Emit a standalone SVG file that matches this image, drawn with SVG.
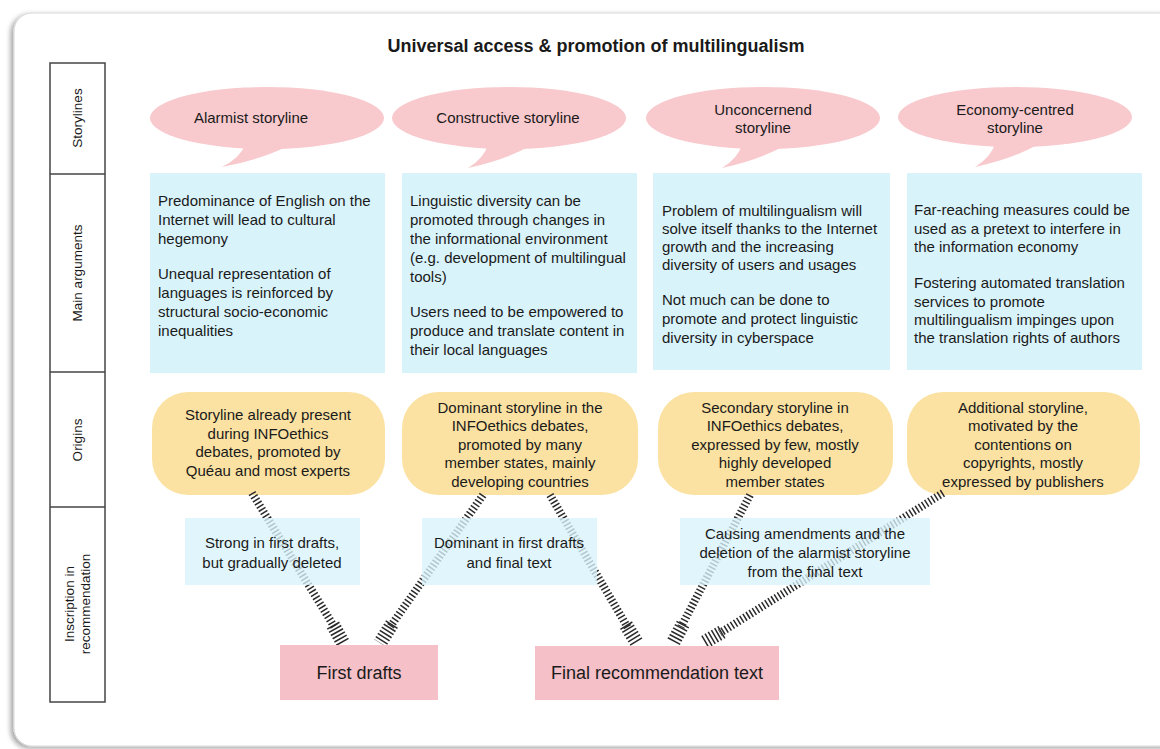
<svg xmlns="http://www.w3.org/2000/svg" width="1160" height="749" viewBox="0 0 1160 749">
<defs>
<filter id="sh" x="-5%" y="-5%" width="110%" height="110%">
<feDropShadow dx="-3" dy="2" stdDeviation="2.5" flood-color="#000" flood-opacity="0.35"/>
</filter>
</defs>
<style>
text{font-family:"Liberation Sans",Arial,sans-serif;fill:#1a1a1a}
.t{font-size:15px}
.c{text-anchor:middle}
.lab{font-size:13.5px;text-anchor:middle}
.bub{fill:#f8c9cd}
.arg{fill:#d9f3fb}
.ori{fill:#fbe2a2}
.ins{fill:#d9f3fb;fill-opacity:0.78}
.out{fill:#f5c0c7}
.sh{fill:none;stroke:#2a2a2a;stroke-width:8;stroke-dasharray:1.5 2.2}
.hd{fill:none;stroke:#2a2a2a;stroke-width:14;stroke-dasharray:1.5 2.2}
</style>
<rect x="14" y="13" width="1170" height="733" rx="18" fill="#fff" stroke="#d8d8d8" filter="url(#sh)"/>
<text x="596" y="52" class="c" style="font-size:18px;font-weight:bold">Universal access &amp; promotion of multilingualism</text>

<g id="rows">
<rect x="50" y="63" width="55" height="639" fill="#fff" stroke="#444" stroke-width="1.5"/>
<line x1="50" y1="174" x2="105" y2="174" stroke="#444" stroke-width="1.5"/>
<line x1="50" y1="372" x2="105" y2="372" stroke="#444" stroke-width="1.5"/>
<line x1="50" y1="507" x2="105" y2="507" stroke="#444" stroke-width="1.5"/>
<text class="lab" transform="translate(82,118) rotate(-90)">Storylines</text>
<text class="lab" transform="translate(82,273) rotate(-90)">Main arguments</text>
<text class="lab" transform="translate(82,440) rotate(-90)">Origins</text>
<text class="lab" transform="translate(74,604) rotate(-90)">Inscription in</text>
<text class="lab" transform="translate(90,604) rotate(-90)">recommendation</text>
</g>

<g id="storyline-alarmist">
<ellipse class="bub" cx="267" cy="118" rx="117" ry="31"/>
<path class="bub" d="M245,145 Q240,158 222,167 Q260,160 288,146 Z"/>
<text x="251" y="123" class="t c">Alarmist storyline</text>
</g>
<g id="storyline-constructive">
<ellipse class="bub" cx="509" cy="118" rx="117" ry="31"/>
<path class="bub" d="M488,145 Q484,158 468,168 Q505,160 530,146 Z"/>
<text x="508" y="123" class="t c">Constructive storyline</text>
</g>
<g id="storyline-unconcerned">
<ellipse class="bub" cx="763" cy="118" rx="117" ry="31"/>
<path class="bub" d="M742,145 Q738,158 722,168 Q759,160 784,146 Z"/>
<text x="763" y="115" class="t c">Unconcernend</text>
<text x="763" y="133" class="t c">storyline</text>
</g>
<g id="storyline-economy">
<ellipse class="bub" cx="1015" cy="117" rx="117" ry="30"/>
<path class="bub" d="M995,144 Q991,157 975,167 Q1012,159 1037,145 Z"/>
<text x="1015" y="115" class="t c">Economy-centred</text>
<text x="1015" y="133" class="t c">storyline</text>
</g>

<g id="args-alarmist">
<rect class="arg" x="150" y="173" width="235" height="200"/>
<text class="t" x="158" y="206">Predominance of English on the</text>
<text class="t" x="158" y="225">Internet will lead to cultural</text>
<text class="t" x="158" y="244">hegemony</text>
<text class="t" x="158" y="279">Unequal representation of</text>
<text class="t" x="158" y="298">languages is reinforced by</text>
<text class="t" x="158" y="317">structural socio-economic</text>
<text class="t" x="158" y="336">inequalities</text>
</g>
<g id="args-constructive">
<rect class="arg" x="402" y="173" width="235" height="200"/>
<text class="t" x="410" y="206">Linguistic diversity can be</text>
<text class="t" x="410" y="225">promoted through changes in</text>
<text class="t" x="410" y="244">the informational environment</text>
<text class="t" x="410" y="263">(e.g. development of multilingual</text>
<text class="t" x="410" y="282">tools)</text>
<text class="t" x="410" y="317">Users need to be empowered to</text>
<text class="t" x="410" y="336">produce and translate content in</text>
<text class="t" x="410" y="355">their local languages</text>
</g>
<g id="args-unconcerned">
<rect class="arg" x="653" y="173" width="237" height="197"/>
<text class="t" x="662" y="216">Problem of multilingualism will</text>
<text class="t" x="662" y="234">solve itself thanks to the Internet</text>
<text class="t" x="662" y="252">growth and the increasing</text>
<text class="t" x="662" y="270">diversity of users and usages</text>
<text class="t" x="662" y="305">Not much can be done to</text>
<text class="t" x="662" y="324">promote and protect linguistic</text>
<text class="t" x="662" y="343">diversity in cyberspace</text>
</g>
<g id="args-economy">
<rect class="arg" x="907" y="173" width="235" height="197"/>
<text class="t" x="914" y="215">Far-reaching measures could be</text>
<text class="t" x="914" y="234">used as a pretext to interfere in</text>
<text class="t" x="914" y="252">the information economy</text>
<text class="t" x="914" y="288">Fostering automated translation</text>
<text class="t" x="914" y="307">services to promote</text>
<text class="t" x="914" y="325">multilingualism impinges upon</text>
<text class="t" x="914" y="343">the translation rights of authors</text>
</g>

<g id="origin-alarmist">
<rect class="ori" x="152" y="392" width="233" height="103" rx="36"/>
<text class="t c" x="268" y="420">Storyline already present</text>
<text class="t c" x="268" y="439">during INFOethics</text>
<text class="t c" x="268" y="457">debates, promoted by</text>
<text class="t c" x="268" y="476">Quéau and most experts</text>
</g>
<g id="origin-constructive">
<rect class="ori" x="402" y="392" width="236" height="103" rx="36"/>
<text class="t c" x="520" y="413">Dominant storyline in the</text>
<text class="t c" x="520" y="431">INFOethics debates,</text>
<text class="t c" x="520" y="450">promoted by many</text>
<text class="t c" x="520" y="468">member states, mainly</text>
<text class="t c" x="520" y="487">developing countries</text>
</g>
<g id="origin-unconcerned">
<rect class="ori" x="658" y="392" width="235" height="103" rx="36"/>
<text class="t c" x="775" y="413">Secondary storyline in</text>
<text class="t c" x="775" y="431">INFOethics debates,</text>
<text class="t c" x="775" y="450">expressed by few, mostly</text>
<text class="t c" x="775" y="468">highly developed</text>
<text class="t c" x="775" y="487">member states</text>
</g>
<g id="origin-economy">
<rect class="ori" x="907" y="392" width="233" height="103" rx="36"/>
<text class="t c" x="1023" y="413">Additional storyline,</text>
<text class="t c" x="1023" y="431">motivated by the</text>
<text class="t c" x="1023" y="450">contentions on</text>
<text class="t c" x="1023" y="468">copyrights, mostly</text>
<text class="t c" x="1023" y="487">expressed by publishers</text>
</g>

<g id="connectors">
<line class="sh" x1="252" y1="493" x2="335" y2="628"/>
<line class="hd" x1="333" y1="625" x2="343" y2="643"/>
<line class="sh" x1="483" y1="495" x2="390" y2="627"/>
<line class="hd" x1="392" y1="624" x2="380" y2="643"/>
<line class="sh" x1="550" y1="495" x2="628" y2="628"/>
<line class="hd" x1="626" y1="625" x2="637" y2="643"/>
<line class="sh" x1="750" y1="495" x2="681" y2="627"/>
<line class="hd" x1="683" y1="624" x2="673" y2="643"/>
<line class="sh" x1="943" y1="493" x2="720" y2="633"/>
<line class="hd" x1="722" y1="632" x2="703" y2="643"/>
</g>

<g id="inscr-alarmist">
<rect class="ins" x="185" y="518" width="175" height="67"/>
<text class="t c" x="272" y="548">Strong in first drafts,</text>
<text class="t c" x="272" y="568">but gradually deleted</text>
</g>
<g id="inscr-constructive">
<rect class="ins" x="422" y="518" width="175" height="67"/>
<text class="t c" x="509" y="548">Dominant in first drafts</text>
<text class="t c" x="509" y="568">and final text</text>
</g>
<g id="inscr-other">
<rect class="ins" x="680" y="518" width="250" height="67"/>
<text class="t c" x="805" y="539">Causing amendments and the</text>
<text class="t c" x="805" y="558">deletion of the alarmist storyline</text>
<text class="t c" x="805" y="577">from the  final text</text>
</g>

<g id="first-drafts">
<rect class="out" x="280" y="645" width="158" height="55"/>
<text x="359" y="679" class="c" style="font-size:18px">First drafts</text>
</g>
<g id="final-text">
<rect class="out" x="535" y="646" width="244" height="54"/>
<text x="657" y="679" class="c" style="font-size:18px">Final recommendation text</text>
</g>
</svg>
